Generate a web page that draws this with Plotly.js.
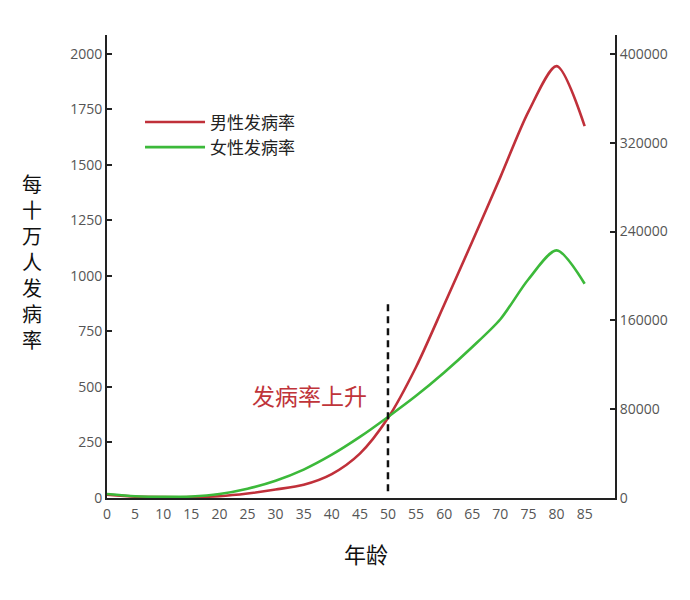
<!DOCTYPE html>
<html>
<head>
<meta charset="utf-8">
<script src="https://cdn.plot.ly/plotly-3.0.1.min.js"></script>
<style>html,body{margin:0;padding:0;background:#fff;}#chart{width:690px;height:600px;}</style>
</head>
<body>
<div id="chart"></div>
<script>
// Age groups (x axis)
const ages = [0, 5, 10, 15, 20, 25, 30, 35, 40, 45, 50, 55, 60, 65, 70, 75, 80, 85];
// Male incidence per 100k
const maleRate = [15, 6, 4, 4, 8, 20, 38, 60, 108, 200, 360, 590, 870, 1155, 1445, 1740, 1945, 1675];
// Female incidence per 100k
const femaleRate = [18, 8, 5, 7, 18, 42, 78, 128, 195, 275, 365, 460, 565, 680, 805, 985, 1115, 965];
// Series labels
const seriesNames = ['男性发病率', '女性发病率'];
// Tick values
const leftTicks = [0, 250, 500, 750, 1000, 1250, 1500, 1750, 2000];
const rightTicks = [0, 80000, 160000, 240000, 320000, 400000];
const xTicks = [0, 5, 10, 15, 20, 25, 30, 35, 40, 45, 50, 55, 60, 65, 70, 75, 80, 85];
// Marker line and annotation
const markerAge = 50;
const markerSpan = [30, 880];
const annoText = '发病率上升';
const annoPos = [36, 462];
const yTitleChars = ['每', '十', '万', '人', '发', '病', '率'];
const xTitleText = '年龄';

const cjk = '"Noto Sans CJK SC", "Noto Sans", sans-serif';
const num = '"Open Sans", "DejaVu Sans", sans-serif';

const traces = [
  {x: ages, y: maleRate, name: seriesNames[0], type: 'scatter', mode: 'lines',
   line: {color: '#c0303a', width: 2.6, shape: 'spline', smoothing: 0.8}},
  {x: ages, y: femaleRate, name: seriesNames[1], type: 'scatter', mode: 'lines',
   line: {color: '#3cb93a', width: 2.6, shape: 'spline', smoothing: 0.8}},
  {x: [], y: [], yaxis: 'y2', showlegend: false, hoverinfo: 'skip'}
];

const axisCommon = {
  showline: true, linecolor: '#222', linewidth: 2, showgrid: false, zeroline: false,
  tickfont: {family: num, size: 14, color: '#555'}
};

const layout = {
  width: 690, height: 600,
  paper_bgcolor: '#fff', plot_bgcolor: '#fff',
  margin: {l: 107, r: 75, t: 35, b: 102},
  showlegend: true,
  legend: {x: 0.065, y: 0.85, xanchor: 'left', yanchor: 'top',
    font: {family: cjk, size: 17, color: '#222'}, bgcolor: 'rgba(0,0,0,0)',
    tracegroupgap: 0, itemwidth: 60},
  xaxis: Object.assign({}, axisCommon, {
    range: [0, 90.4], tickmode: 'array', tickvals: xTicks, ticks: '',
    ticklabelstandoff: 2
  }),
  yaxis: Object.assign({}, axisCommon, {
    range: [0, 2085], tickmode: 'array', tickvals: leftTicks,
    ticks: 'inside', ticklen: 5, tickwidth: 2, tickcolor: '#222'
  }),
  yaxis2: Object.assign({}, axisCommon, {
    overlaying: 'y', side: 'right', range: [0, 417000], tickmode: 'array', tickvals: rightTicks,
    tickformat: 'd',
    ticks: 'inside', ticklen: 5, tickwidth: 2, tickcolor: '#222'
  }),
  shapes: [{
    type: 'line', xref: 'x', yref: 'y', x0: markerAge, x1: markerAge, y0: markerSpan[0], y1: markerSpan[1],
    line: {color: '#111', width: 2.5, dash: '7px,5px'}
  }],
  annotations: [
    {xref: 'x', yref: 'y', x: annoPos[0], y: annoPos[1], text: annoText, showarrow: false,
     font: {family: cjk, size: 23, color: '#c0343a'}},
    {xref: 'paper', yref: 'paper', x: -0.147, y: 0.51, xanchor: 'center', yanchor: 'middle',
     text: yTitleChars.join('<br>'), showarrow: false,
     font: {family: cjk, size: 20, color: '#111'}},
    {xref: 'paper', yref: 'paper', x: 0.51, y: -0.118, xanchor: 'center', yanchor: 'middle',
     text: xTitleText, showarrow: false,
     font: {family: cjk, size: 22, color: '#111'}}
  ]
};

Plotly.newPlot('chart', traces, layout, {displayModeBar: false, staticPlot: true});
</script>
</body>
</html>
